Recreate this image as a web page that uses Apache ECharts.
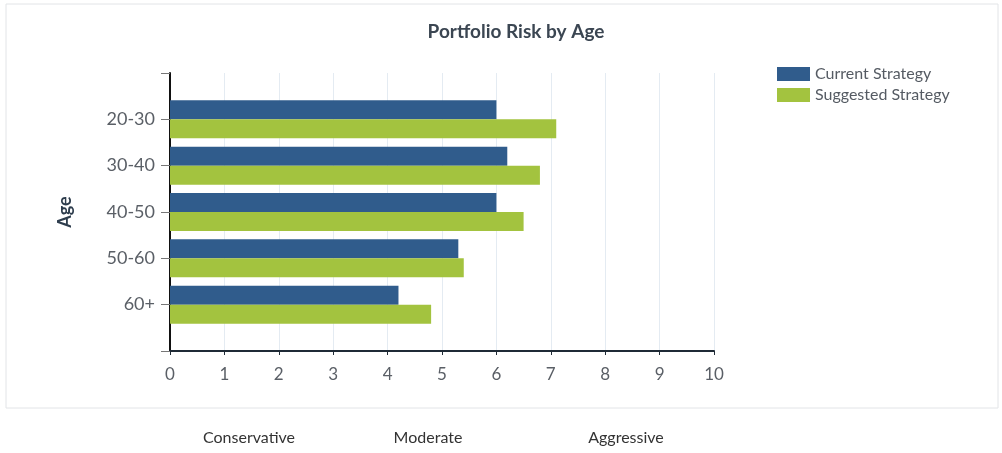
<!DOCTYPE html>
<html>
<head>
<meta charset="utf-8">
<script src="https://cdn.jsdelivr.net/npm/echarts@6/dist/echarts.min.js"></script>
<style>
  html, body { margin: 0; padding: 0; background: #ffffff; }
  #chart { width: 1002px; height: 453px; }
</style>
</head>
<body>
<div id="chart"></div>
<script>
// Age brackets (empty slots pad the axis above and below the groups)
const categories = ['', '20-30', '30-40', '40-50', '50-60', '60+', ''];
const currentStrategy = [null, 6.0, 6.2, 6.0, 5.3, 4.2, null];
const suggestedStrategy = [null, 7.1, 6.8, 6.5, 5.4, 4.8, null];
const riskTicks = [0, 1, 2, 3, 4, 5, 6, 7, 8, 9, 10];
const riskBands = ['Conservative', 'Moderate', 'Aggressive'];

const chart = echarts.init(document.getElementById('chart'));
const fontFamily = 'Lato, "Open Sans", sans-serif';
const bandCenters = [249, 428, 626];

chart.setOption({
  animation: false,
  textStyle: { fontFamily },
  title: {
    text: 'Portfolio Risk by Age',
    left: 511,
    textAlign: 'center',
    top: 17,
    textStyle: { fontSize: 19, fontWeight: 'bold', color: '#3b4652', fontFamily }
  },
  legend: {
    orient: 'vertical',
    left: 772,
    top: 61,
    itemWidth: 33,
    itemHeight: 14,
    itemGap: 5,
    icon: 'rect',
    textStyle: { fontSize: 16, color: '#555b63', fontFamily },
    data: ['Current Strategy', 'Suggested Strategy']
  },
  grid: { left: 170, right: 288, top: 73, bottom: 102 },
  xAxis: {
    type: 'value',
    min: riskTicks[0],
    max: riskTicks[riskTicks.length - 1],
    interval: 1,
    axisLine: { show: true, lineStyle: { color: '#1f2a36', width: 2 } },
    axisTick: { show: true, length: 4, lineStyle: { color: '#1f2a36' } },
    axisLabel: { fontSize: 17, color: '#5a5f66', margin: 15, fontFamily },
    splitLine: { show: true, lineStyle: { color: '#e4ebf2', width: 1 } }
  },
  yAxis: {
    type: 'category',
    data: categories,
    inverse: true,
    boundaryGap: false,
    name: 'Age',
    nameLocation: 'middle',
    nameGap: 96,
    nameRotate: 90,
    nameTextStyle: { fontSize: 18, fontWeight: 'bold', color: '#2e3d4d', fontFamily },
    axisLine: { show: true, lineStyle: { color: '#111111', width: 2 } },
    axisTick: { show: true, length: 9, lineStyle: { color: '#777777' } },
    axisLabel: { fontSize: 18, color: '#5a5f66', margin: 15, fontFamily },
    splitLine: { show: false }
  },
  series: [
    {
      name: 'Current Strategy',
      type: 'bar',
      data: currentStrategy,
      barWidth: 19,
      barGap: '0%',
      itemStyle: { color: '#305c8c' }
    },
    {
      name: 'Suggested Strategy',
      type: 'bar',
      data: suggestedStrategy,
      barWidth: 19,
      barGap: '0%',
      itemStyle: { color: '#a3c33f' }
    }
  ],
  graphic: [
    {
      type: 'rect',
      shape: { x: 6, y: 4, width: 992, height: 404 },
      style: { fill: 'none', stroke: '#e2e4e7', lineWidth: 1 },
      silent: true
    }
  ].concat(riskBands.map((label, i) => ({
    type: 'text',
    x: bandCenters[i],
    y: 438,
    silent: true,
    style: {
      text: label,
      fontSize: 16,
      fill: '#333333',
      fontFamily,
      align: 'center',
      verticalAlign: 'middle'
    }
  })))
});
</script>
</body>
</html>
